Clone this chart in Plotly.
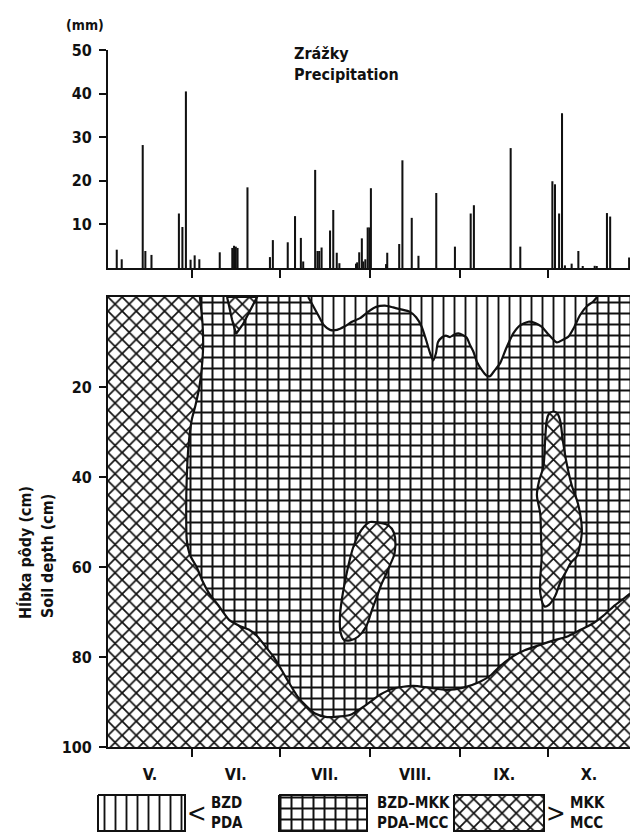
import plotly.graph_objects as go

# ---------------- data ----------------
months = ["V.", "VI.", "VII.", "VIII.", "IX.", "X."]
month_starts = [0, 31, 61, 92, 123, 153, 184]          # days since 1 May
x_range = [2.2, 181.1]

# daily precipitation (mm); x = day since 1 May
precip_day = [5.2, 6.9, 14.1, 15.0, 17.1, 26.5, 27.7, 28.9, 30.5, 31.9, 33.5, 40.5,
              44.8, 45.4, 46.0, 46.6, 50.0, 57.7, 58.7, 63.8, 66.3, 68.3, 69.1, 73.2,
              74.0, 74.6, 75.4, 78.3, 79.4, 80.6, 81.5, 87.2, 87.6, 88.3, 89.2, 89.7,
              90.4, 91.2, 91.8, 92.3, 97.5, 97.9, 102.0, 103.1, 106.3, 108.6, 114.7,
              121.1, 126.5, 127.6, 140.2, 143.5, 154.5, 155.4, 156.8, 157.8, 158.8,
              161.1, 163.4, 164.9, 169.0, 169.7, 173.2, 174.3, 180.8]
precip_mm = [4.2, 2.0, 28.2, 3.9, 3.0, 12.5, 9.4, 40.5, 1.9, 2.9, 2.0, 3.6,
             4.6, 5.1, 4.9, 4.6, 18.5, 2.5, 6.4, 5.9, 11.9, 6.9, 1.5, 22.5,
             3.9, 3.9, 4.7, 8.6, 13.3, 3.5, 1.1, 1.0, 1.3, 3.6, 6.8, 1.5,
             2.0, 9.3, 9.3, 18.3, 0.9, 3.5, 5.5, 24.7, 11.5, 2.8, 17.2,
             4.9, 12.5, 14.4, 27.5, 4.9, 19.9, 19.2, 12.5, 35.5, 0.6,
             1.0, 3.9, 0.4, 0.5, 0.4, 12.6, 11.8, 2.4]

# isopleth boundaries (day, soil depth cm)
mkk_day = [33.7, 34.6, 34.8, 34.3, 33.5, 32.2, 30.9, 29.8, 29.2, 29.0, 29.2, 30.4, 32.6,
           34.5, 36.9, 40.0, 43.8, 47.0, 50.7, 53.5, 56.2, 59.0, 61.7, 64.5, 67.2, 70.0,
           73.0, 76.8, 80.0, 85.1, 90.3, 95.4, 100.0, 106.8, 112.0, 118.3, 124.0, 129.7,
           133.5, 136.6, 141.1, 145.0, 150.3, 155.0, 159.4, 164.0, 168.5, 172.0, 175.4,
           178.0, 181.1]
mkk_depth = [0, 6, 11, 16, 20, 24, 27.3, 33, 40, 47, 54, 57.5, 60,
             63, 65.9, 68.5, 71.8, 73, 74, 75.5, 77.7, 80, 82.9, 86, 88.8, 90.8,
             92.5, 93.3, 93.3, 92.9, 90.8, 88.4, 87, 86.4, 86.8, 87.3, 86.8, 85.5,
             84, 82, 79.8, 78.5, 77.3, 76.3, 75.5, 74, 72.5, 70.8, 68.8,
             67.5, 65.9]

island1_day = [94.3, 97.5, 99.5, 100.6, 100.4, 98.9, 97.5, 95.8, 94.7, 92.7, 90.6, 87.9,
               85.2, 83.1, 81.9, 81.7, 82.4, 84.0, 85.2, 86.3, 87.9, 90.0, 92.0]
island1_depth = [50.1, 50.5, 51.5, 53.5, 57, 59.5, 61.6, 64, 66, 69.5, 73.3, 75.5,
                 76.3, 76.2, 74.5, 71, 67, 61.4, 58, 55.5, 53, 51, 50]

island2_day = [154.6, 156.1, 157.1, 158.1, 159.4, 161.2, 163.3, 164.6, 164.0, 162.8, 160.9,
               159.2, 157.1, 155.4, 153.3, 151.8, 150.4, 150.3, 150.8, 150.6, 150.3, 149.2,
               149.9, 151.4, 152.0, 152.6, 153.3]
island2_depth = [25.5, 25.8, 27.3, 32, 37, 42, 46, 51.8, 55, 57.7, 59,
                 61, 63.6, 66.5, 68.4, 68.8, 66, 63, 58, 53, 48, 44,
                 41, 37.7, 32, 27.3, 26]

wedge_day = [43.0, 53.3, 50.9, 48.5, 46.1, 44.7, 43.7]
wedge_depth = [0, 0, 3, 6, 8.2, 5, 2]

bzd_day = [70.8, 72.1, 74.2, 76.2, 78.3, 80.7, 83.4, 85.8, 88.6, 91.3, 94.1, 97.1, 99.9,
           102.3, 105.7, 107.8, 109.7, 111.2, 112.6, 113.7, 114.6, 115.3, 116.6, 118.0,
           119.4, 120.8, 122.3, 123.9, 125.1, 126.3, 127.4, 128.7, 130.3, 131.8, 133.1,
           134.5, 136.6, 138.6, 141.1, 143.4, 146.3, 148.6, 150.8, 153.0, 156.0, 158.1,
           160.0, 161.9, 164.0, 166.4, 168.5, 169.8]
bzd_depth = [0, 1.5, 4, 6.3, 7.3, 7.3, 6.5, 5.5, 4.7, 3.3, 2.2, 1.9, 2.3,
             2.7, 3.3, 4.5, 6.6, 9.5, 12.5, 14.1, 12.5, 10, 9.0, 8.6,
             8.9, 8.4, 8.1, 8.5, 9.0, 10.7, 12.1, 14.5, 16.2, 17.4, 17.6,
             16.5, 14.7, 11.5, 8.1, 6.3, 5.5, 5.8, 6.6, 8.2, 10.1, 9.5,
             8.8, 6.8, 4.0, 2.0, 1.0, 0]

legend_prefix = ["<", "", ">"]
legend_line1 = ["BZD", "BZD–MKK", "MKK"]
legend_line2 = ["PDA", "PDA–MCC", "MCC"]
legend_shapes = ["|", "+", "x"]

# ---------------- styling ----------------
W, H = 630, 834
FONT = "DejaVu Sans Condensed, Liberation Sans Narrow, sans-serif"
INK = "#111111"

def pat(shape):
    sol = {"|": 0.17, "+": 0.33, "x": 0.32}[shape]
    return dict(shape=shape, size=11 if shape != "x" else 10, solidity=sol,
                fgcolor=INK, bgcolor="white", fillmode="replace")

fig = go.Figure()

fig.add_trace(go.Bar(x=precip_day, y=precip_mm, width=0.7, marker_color=INK,
                     marker_line_width=0, xaxis="x", yaxis="y", showlegend=False))

x_lo, x_hi = x_range[0] - 2, x_range[1] + 2

fig.add_trace(go.Scatter(x=[x_lo, x_hi, x_hi, x_lo], y=[-2, -2, 102, 102], mode="lines",
                         fill="toself", fillcolor="white", fillpattern=pat("+"),
                         line=dict(width=0, color="rgba(0,0,0,0)"),
                         xaxis="x2", yaxis="y2", showlegend=False, hoverinfo="skip"))
fig.add_trace(go.Scatter(x=bzd_day, y=bzd_depth, mode="lines", fill="toself",
                         fillcolor="white", fillpattern=pat("|"),
                         line=dict(width=0, color="rgba(0,0,0,0)", shape="spline", smoothing=0.6),
                         xaxis="x2", yaxis="y2", showlegend=False, hoverinfo="skip"))
fig.add_trace(go.Scatter(x=[x_lo, mkk_day[0]] + mkk_day + [x_hi, x_hi, x_lo],
                         y=[-2, -2] + mkk_depth + [mkk_depth[-1], 102, 102],
                         mode="lines", fill="toself", fillcolor="white", fillpattern=pat("x"),
                         line=dict(width=0, color="rgba(0,0,0,0)"),
                         xaxis="x2", yaxis="y2", showlegend=False, hoverinfo="skip"))
for dx, dy, shp in [(island1_day, island1_depth, "spline"),
                    (island2_day, island2_depth, "spline"),
                    (wedge_day, wedge_depth, "linear")]:
    fig.add_trace(go.Scatter(x=dx + [dx[0]], y=dy + [dy[0]], mode="lines", fill="toself",
                             fillcolor="white", fillpattern=pat("x"),
                             line=dict(width=2.2, color=INK, shape=shp),
                             xaxis="x2", yaxis="y2", showlegend=False, hoverinfo="skip"))
for dx, dy in [(mkk_day, mkk_depth), (bzd_day, bzd_depth)]:
    fig.add_trace(go.Scatter(x=dx, y=dy, mode="lines",
                             line=dict(width=2.2, color=INK, shape="spline", smoothing=0.6),
                             xaxis="x2", yaxis="y2", showlegend=False, hoverinfo="skip"))

box_x = [(98, 185), (279, 367), (454, 544)]
box_y = (795, 831)
for (a, b), shp in zip(box_x, legend_shapes):
    fig.add_trace(go.Scatter(x=[a, b, b, a, a], y=[box_y[0], box_y[0], box_y[1], box_y[1], box_y[0]],
                             mode="lines", fill="toself", fillcolor="white", fillpattern=pat(shp),
                             line=dict(width=2, color=INK), xaxis="x3", yaxis="y3",
                             showlegend=False, hoverinfo="skip"))

annotations = []
tx = dict(family=FONT, size=15, color=INK, weight="bold")
for (a, b), pre, l1, l2 in zip(box_x, legend_prefix, legend_line1, legend_line2):
    if pre:
        annotations.append(dict(x=b + 12, y=(box_y[0] + box_y[1]) / 2, xref="x3", yref="y3",
                                text=pre, showarrow=False, font=dict(family=FONT, size=26, color=INK),
                                xanchor="center", yanchor="middle"))
        off = 24
    else:
        off = 8
    annotations.append(dict(x=b + off, y=803, xref="x3", yref="y3", text=l1, showarrow=False,
                            font=tx, xanchor="left", yanchor="middle"))
    annotations.append(dict(x=b + off, y=823, xref="x3", yref="y3", text=l2, showarrow=False,
                            font=tx, xanchor="left", yanchor="middle"))

annotations += [
    dict(x=85 / W, y=1 - 25 / H, xref="paper", yref="paper", text="(mm)", showarrow=False,
         font=dict(family=FONT, size=14, color=INK, weight="bold"), xanchor="center", yanchor="middle"),
    dict(x=292 / W, y=1 - 64 / H, xref="paper", yref="paper", text="Zrážky<br>Precipitation",
         showarrow=False, align="left", font=dict(family=FONT, size=16, color=INK, weight="bold"),
         xanchor="left", yanchor="middle"),
    dict(x=25 / W, y=1 - 553 / H, xref="paper", yref="paper", text="Hĺbka pôdy (cm)",
         showarrow=False, textangle=-90, font=dict(family=FONT, size=16, color=INK, weight="bold"),
         xanchor="center", yanchor="middle"),
    dict(x=47 / W, y=1 - 556 / H, xref="paper", yref="paper", text="Soil depth (cm)",
         showarrow=False, textangle=-90, font=dict(family=FONT, size=16, color=INK, weight="bold"),
         xanchor="center", yanchor="middle"),
]

month_mid = []
for i in range(len(months)):
    a = max(month_starts[i], x_range[0])
    b = min(month_starts[i + 1], x_range[1])
    month_mid.append((a + b) / 2)

tickfont = dict(family=FONT, size=16, color=INK, weight="bold")
xdom = [108 / W, 1.0]
fig.update_layout(
    width=W, height=H, margin=dict(l=0, r=0, t=0, b=0, autoexpand=False),
    paper_bgcolor="white", plot_bgcolor="rgba(0,0,0,0)",
    annotations=annotations, barmode="overlay",
    xaxis=dict(domain=xdom, range=x_range, anchor="y", showline=True, linecolor=INK, linewidth=2,
               ticks="outside", tickvals=month_starts[1:6], ticklen=8, tickwidth=2, tickcolor=INK,
               showticklabels=False, showgrid=False, zeroline=False, automargin=False),
    yaxis=dict(domain=[1 - 268 / H, 1 - 50 / H], range=[0, 50], anchor="x", showline=True,
               linecolor=INK, linewidth=2, ticks="outside", tickvals=[10, 20, 30, 40, 50],
               ticklen=7, tickwidth=2, tickcolor=INK, tickfont=tickfont, showgrid=False,
               zeroline=False, ticklabelstandoff=4, automargin=False),
    xaxis2=dict(domain=xdom, range=x_range, anchor="y2", showline=True, mirror=True,
                linecolor=INK, linewidth=2, ticks="", tickvals=month_mid, ticktext=months,
                tickfont=tickfont, ticklabelstandoff=12, showgrid=False, zeroline=False,
                automargin=False,
                minor=dict(tickmode="array", tickvals=month_starts[1:6], ticks="outside",
                           ticklen=8, tickwidth=2, tickcolor=INK, showgrid=False)),
    yaxis2=dict(domain=[1 - 747 / H, 1 - 297 / H], range=[100, 0], anchor="x2", showline=True,
                linecolor=INK, linewidth=2, ticks="outside", tickvals=[20, 40, 60, 80, 100],
                ticklen=7, tickwidth=2, tickcolor=INK, tickfont=tickfont, showgrid=False,
                zeroline=False, ticklabelstandoff=4, automargin=False),
    xaxis3=dict(domain=[0, 1], range=[0, W], visible=False, anchor="y3", fixedrange=True),
    yaxis3=dict(domain=[0, 1], range=[H, 0], visible=False, anchor="x3", fixedrange=True),
)

fig.write_html("out.html", config={"displayModeBar": False},
               post_script="document.body.style.margin='0';"
                           "document.documentElement.style.overflow='hidden';")
